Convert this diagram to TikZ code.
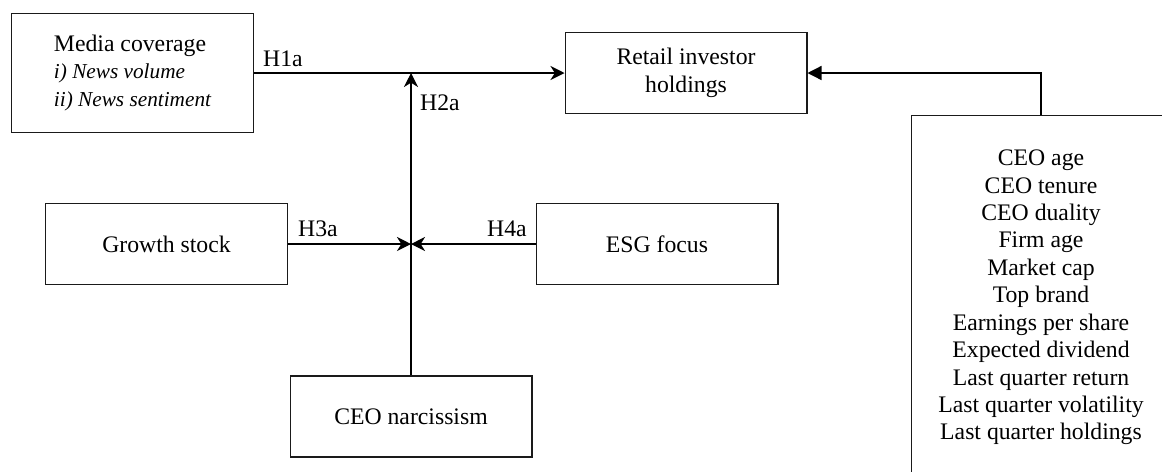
\documentclass[tikz,border=0pt]{standalone}
\usepackage{fontspec}
\setmainfont{Liberation Serif}
\usetikzlibrary{arrows.meta,calc,positioning}
\definecolor{boxline}{HTML}{1A1A1A}

\begin{document}
\begin{tikzpicture}[x=0.02cm,y=-0.02cm,line join=miter,
  every node/.style={font=\fontsize{13.5}{15.6}\selectfont},
  varbox/.style={draw=boxline,line width=0.6pt,minimum width=4.84cm,
    minimum height=1.62cm,align=center,inner sep=0pt},
  hlabel/.style={inner sep=1pt},
  link/.style={line width=0.75pt,-{Stealth[length=8pt,width=8pt,inset=2.5pt]}},
  ctrllink/.style={line width=0.75pt,-{Triangle[length=8pt,width=8pt]}}]
  \clip (0,0) rectangle (1162,471);
  \def\jx{411}

  % The five constructs of the model.
  \node[varbox,minimum height=2.38cm,align=left] (media) at (132.5,73)
    {Media coverage\\
     {\fontsize{12.1}{15.2}\selectfont\itshape i) News volume}\\
     {\fontsize{12.1}{15.2}\selectfont\itshape ii) News sentiment}};
  \node[varbox] (retail) at (686,73) {Retail investor\\holdings};
  \node[varbox] (growth) at (166.5,244) {Growth stock};
  \node[varbox] (esg) at (657,244) {ESG focus};
  \node[varbox] (narc) at (\jx,416.5) {CEO narcissism};

  % Controls run off the page on the right and at the bottom.
  \node[varbox,minimum width=5.2cm,minimum height=7.3cm] (ctrl) at (1041,297.5)
    {CEO age\\CEO tenure\\CEO duality\\Firm age\\Market cap\\Top brand\\
     Earnings per share\\Expected dividend\\Last quarter return\\
     Last quarter volatility\\Last quarter holdings};

  % Junctions on the moderator line.
  \coordinate (jtop) at (\jx,73);
  \coordinate (jmid) at (\jx,244);

  \draw[link] (media.east) -- (retail.west);
  \draw[link] (narc.north) -- (jtop);
  \draw[link] (growth.east) -- (jmid);
  \draw[link] (esg.west) -- (jmid);
  \draw[ctrllink] (ctrl.north) |- (retail.east);

  \node[hlabel] (h1a) at (283,59) {H1a};
  \node[hlabel] (h2a) at (440,103) {H2a};
  \node[hlabel] (h3a) at (318,229) {H3a};
  \node[hlabel] (h4a) at (507,229) {H4a};
\end{tikzpicture}
\end{document}
